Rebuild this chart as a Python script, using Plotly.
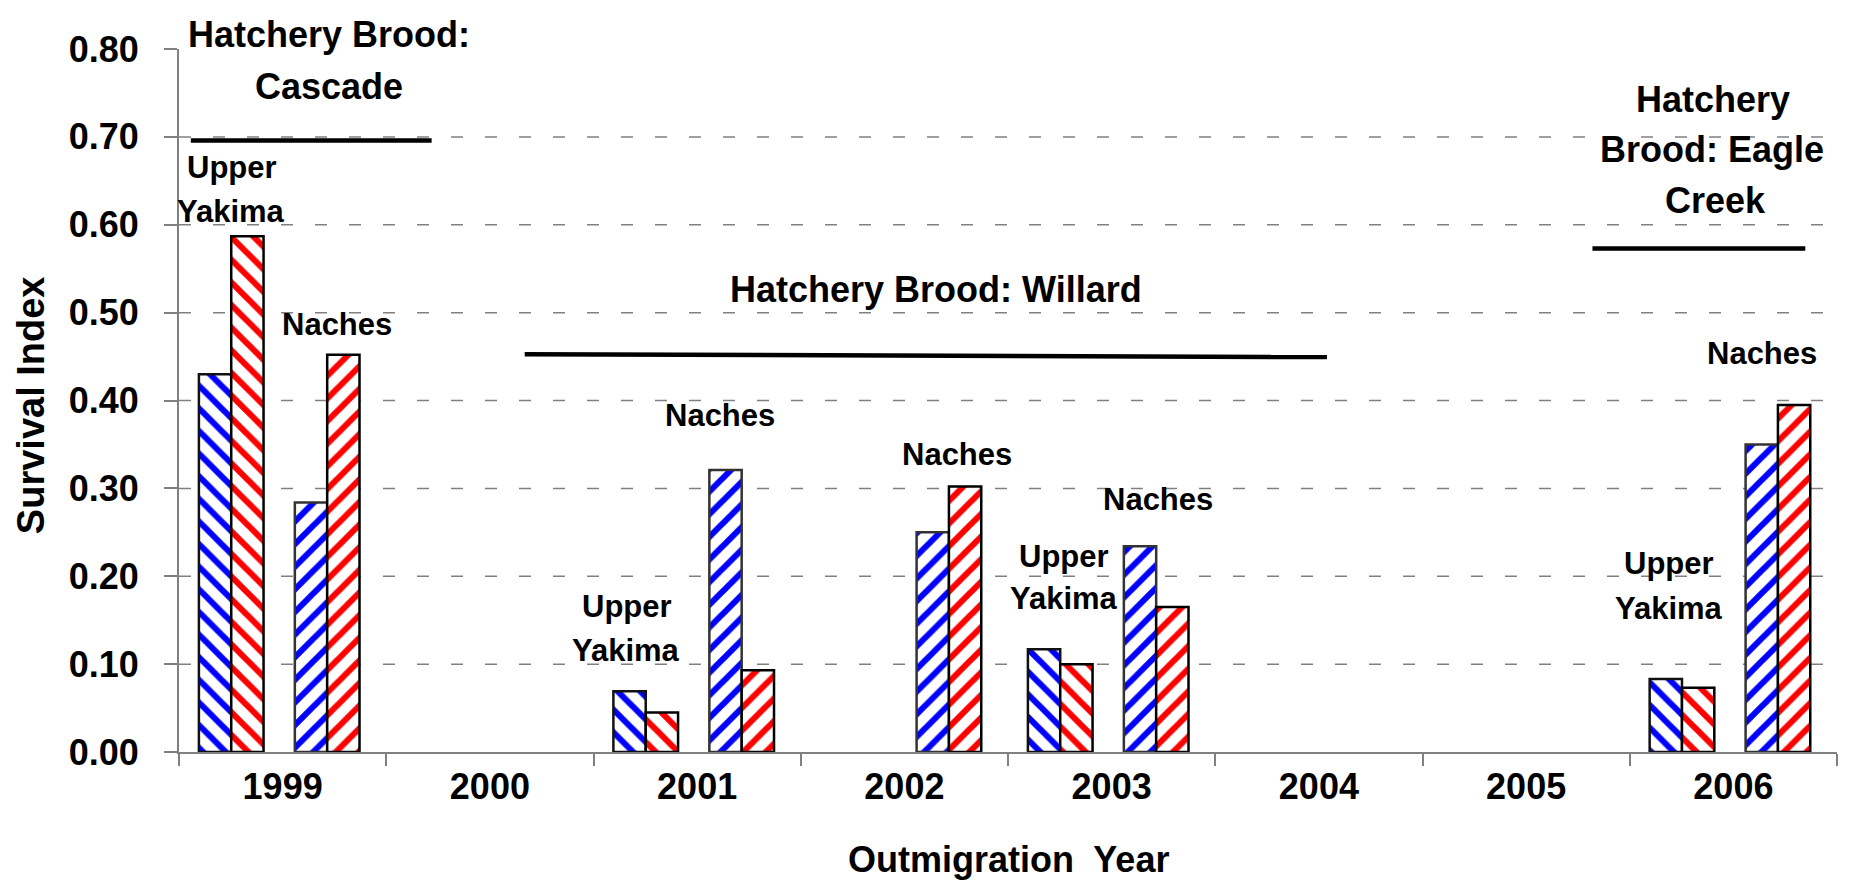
import plotly.graph_objects as go

# ---- data ----
years = ["1999", "2000", "2001", "2002", "2003", "2004", "2005", "2006"]
upper_yakima_blue = [0.430, None, 0.069, None, 0.117, None, None, 0.083]
upper_yakima_red = [0.587, None, 0.045, None, 0.100, None, None, 0.073]
naches_blue = [0.284, None, 0.321, 0.250, 0.234, None, None, 0.350]
naches_red = [0.452, None, 0.093, 0.302, 0.165, None, None, 0.395]
y_ticks = [0.0, 0.1, 0.2, 0.3, 0.4, 0.5, 0.6, 0.7, 0.8]
Y_MAX = 0.8

FONT = "Liberation Sans, Arial, sans-serif"
BAR_W = 0.156
# (values, hatch colour, hatch shape, left edge inside category, outline)
series = [
    ("Upper Yakima A", upper_yakima_blue, "#0000ff", "\\", -0.404, "#111111"),
    ("Upper Yakima B", upper_yakima_red, "#ff0000", "\\", -0.248, "#000000"),
    ("Naches A", naches_blue, "#0000ff", "/", 0.059, "#333333"),
    ("Naches B", naches_red, "#ff0000", "/", 0.215, "#000000"),
]

fig = go.Figure()
for name, vals, col, shape, off, outline in series:
    fig.add_trace(go.Bar(
        x=years, y=vals, name=name, width=BAR_W, offset=off,
        marker=dict(color="white",
                    pattern=dict(shape=shape, fgcolor=col, bgcolor="white",
                                 size=16, solidity=0.38, fillmode="replace"),
                    line=dict(color=outline, width=2.5)),
        showlegend=False))

# dashed gridlines (none at the top of the axis)
for v in y_ticks[1:-1]:
    fig.add_shape(type="line", xref="paper", x0=0, x1=1, yref="y", y0=v, y1=v,
                  line=dict(color="#808080", width=1.5, dash="12px,22px"), layer="below")

# brood bars
brood_lines = [(-0.443, 0.719, 0.696, 0.696), (1.168, 5.039, 0.4527, 0.4494), (6.32, 7.347, 0.573, 0.573)]
for x0, x1, y0, y1 in brood_lines:
    fig.add_shape(type="line", xref="x", yref="y", x0=x0, x1=x1, y0=y0, y1=y1,
                  line=dict(color="black", width=4.5))

# labels: (text, x, y, size)
labels = [
    ("Hatchery Brood:", 0.222, 0.8165, 36), ("Cascade", 0.222, 0.7575, 36),
    ("Upper", -0.242, 0.665, 31), ("Yakima", -0.247, 0.615, 31),
    ("Naches", 0.260, 0.487, 31),
    ("Hatchery Brood: Willard", 3.151, 0.526, 36),
    ("Naches", 2.109, 0.383, 31),
    ("Upper", 1.660, 0.166, 31), ("Yakima", 1.655, 0.116, 31),
    ("Naches", 3.256, 0.339, 31),
    ("Upper", 3.772, 0.2225, 31), ("Yakima", 3.772, 0.1746, 31),
    ("Naches", 4.222, 0.287, 31),
    ("Hatchery", 6.903, 0.743, 36), ("Brood: Eagle", 6.898, 0.686, 36), ("Creek", 6.912, 0.628, 36),
    ("Naches", 7.137, 0.453, 31),
    ("Upper", 6.688, 0.2147, 31), ("Yakima", 6.688, 0.1635, 31),
]
for text, x, y, size in labels:
    fig.add_annotation(x=x, y=y / Y_MAX, xref="x", yref="paper", text=text, showarrow=False,
                       xanchor="center", yanchor="middle",
                       font=dict(family=FONT, size=size, color="black", weight="bold"))

# axis titles
fig.add_annotation(x=0.5, y=-0.153, xref="paper", yref="paper", text="Outmigration\u00a0 Year",
                   showarrow=False, xanchor="center", yanchor="middle",
                   font=dict(family=FONT, size=36, color="black", weight="bold"))
fig.add_annotation(x=-0.0896, y=0.494, xref="paper", yref="paper", text="Survival Index",
                   showarrow=False, textangle=-90, xanchor="center", yanchor="middle",
                   font=dict(family=FONT, size=38, color="black", weight="bold"))

fig.update_layout(
    barmode="overlay",
    plot_bgcolor="white", paper_bgcolor="white",
    margin=dict(l=171, r=9, t=41, b=131),
    font=dict(family=FONT, color="black", weight="bold"),
    xaxis=dict(type="category", range=[-0.5, 7.5], tickson="boundaries",
               showline=True, linecolor="#808080", linewidth=2,
               ticks="outside", ticklen=12, tickwidth=1.5, tickcolor="#808080",
               showgrid=False, ticklabelstandoff=2,
               tickfont=dict(family=FONT, size=36, weight="bold")),
    yaxis=dict(range=[0, Y_MAX], tickvals=y_ticks, tickformat=".2f",
               showline=True, linecolor="#808080", linewidth=2,
               ticks="outside", ticklen=13, tickwidth=1.5, tickcolor="#808080",
               showgrid=False, zeroline=False, ticklabelstandoff=18,
               tickfont=dict(family=FONT, size=36, weight="bold")),
)

fig.write_html("out.html")
